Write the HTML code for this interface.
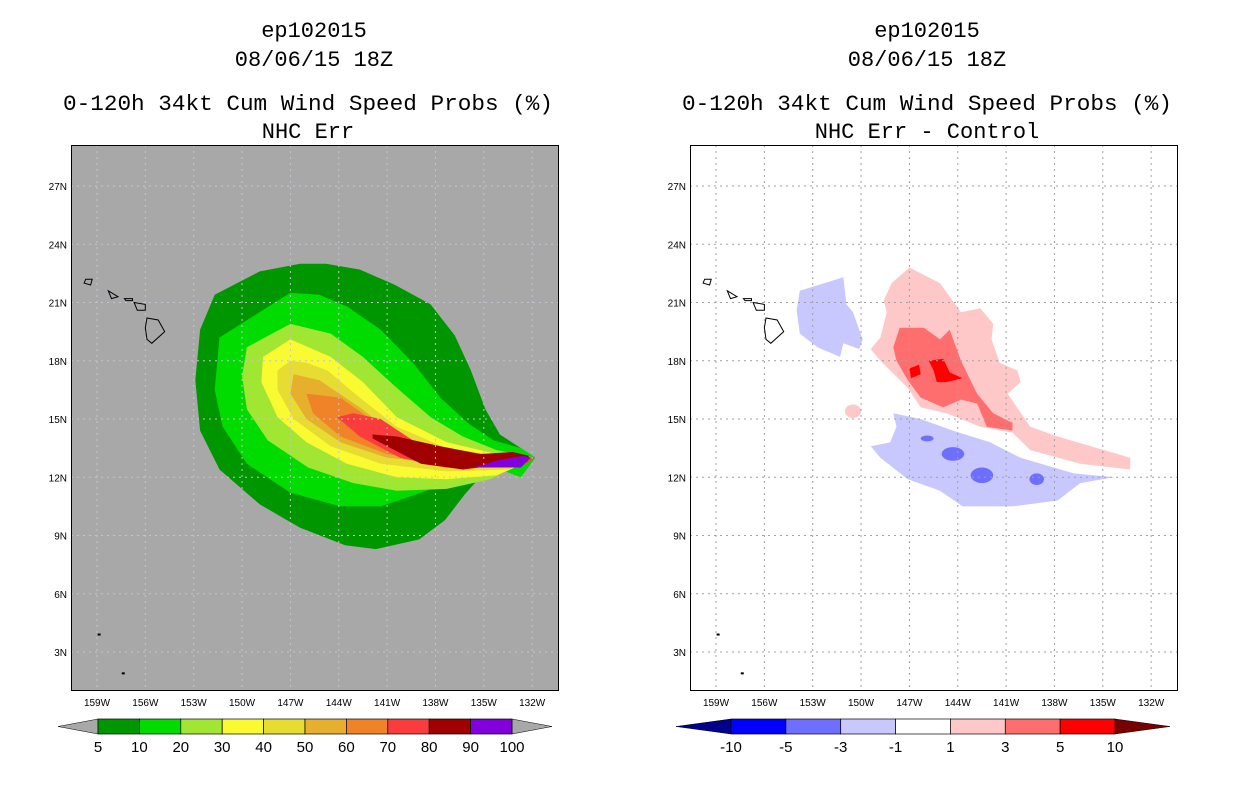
<!DOCTYPE html>
<html><head><meta charset="utf-8"><style>body{margin:0;background:#fff}svg{display:block}</style></head>
<body>
<svg id="chart" width="1236" height="800" viewBox="0 0 1236 800" xmlns="http://www.w3.org/2000/svg" font-family="Liberation Mono, monospace">
<g font-size="22" text-anchor="middle" fill="#000">
<text x="314" y="37">ep102015</text>
<text x="314" y="66">08/06/15 18Z</text>
<text x="308" y="110" textLength="490" lengthAdjust="spacingAndGlyphs">0-120h 34kt Cum Wind Speed Probs (%)</text>
<text x="308" y="138">NHC Err</text>
<text x="927" y="37">ep102015</text>
<text x="927" y="66">08/06/15 18Z</text>
<text x="927" y="110" textLength="490" lengthAdjust="spacingAndGlyphs">0-120h 34kt Cum Wind Speed Probs (%)</text>
<text x="927" y="138">NHC Err - Control</text>
</g>
<g id="left"></g>
<g id="right"></g>
<g id="cbars"></g>
</svg>
<script>
const lonTicks=[-159,-156,-153,-150,-147,-144,-141,-138,-135,-132];
const latTicks=[3,6,9,12,15,18,21,24,27];
const probLevels=["5","10","20","30","40","50","60","70","80","90","100"];
const probColors=["#009600","#00dc00","#a0e632","#fafa32","#e6dc32","#e6af2d","#f08228","#fa3c3c","#a00000","#8200dc"];
const diffLevels=["-10","-5","-3","-1","1","3","5","10"];
const diffColors=["#0000ff","#6e6eff","#c8c8ff","#ffffff","#ffc8c8","#ff6e6e","#ff0000"];
const TIP=[-131.8,13.0];
const prob5=[[-146.4,23.0],[-148.9,22.6],[-151.7,21.4],[-152.6,19.6],[-152.9,17.0],[-152.6,14.4],[-151.4,12.4],[-148.9,10.6],[-146.4,9.4],[-143.6,8.5],[-141.7,8.3],[-139.0,8.8],[-137.4,9.8],[-136.2,11.1],[-134.6,12.6],[-132.9,12.8],TIP,[-132.7,13.5],[-134.0,14.2],[-134.9,15.5],[-135.8,17.5],[-136.8,19.3],[-138.3,20.9],[-140.5,21.9],[-142.7,22.7],[-144.8,23.0]];
const prob10=[[-147.0,21.5],[-151.4,19.2],[-151.7,16.5],[-151.2,14.6],[-149.7,12.7],[-147.0,11.2],[-143.9,10.5],[-141.4,10.5],[-138.9,11.2],[-136.6,11.9],[-134.0,12.4],[-132.7,12.0],TIP,[-132.7,13.5],[-134.4,13.9],[-136.0,14.8],[-137.7,16.1],[-139.4,17.9],[-141.4,19.6],[-143.5,20.8],[-145.2,21.4]];
const prob20=[[-147.0,19.9],[-149.7,18.7],[-150.0,17.2],[-149.7,15.5],[-148.4,13.9],[-145.9,12.5],[-143.1,11.7],[-140.4,11.3],[-137.3,11.4],[-134.6,11.9],TIP,[-134.2,13.4],[-136.3,14.1],[-138.3,15.1],[-140.4,16.6],[-142.5,18.2],[-144.5,19.4]];
const prob30=[[-147.0,19.1],[-148.7,18.2],[-148.8,16.9],[-147.8,15.1],[-146.0,13.8],[-143.5,12.7],[-140.4,12.0],[-137.3,11.9],[-134.2,12.1],TIP,[-134.2,13.2],[-137.3,13.8],[-140.4,15.1],[-142.5,16.9],[-144.5,18.2]];
const prob40=[[-147.0,18.0],[-147.8,17.5],[-147.8,16.5],[-146.8,15.0],[-144.5,13.6],[-141.4,12.7],[-137.3,12.3],[-133.5,12.4],TIP,[-134.0,13.1],[-137.3,13.5],[-140.4,14.6],[-142.7,16.1],[-144.7,17.5],[-146.0,17.9]];
const prob50=[[-146.8,17.3],[-147.0,16.3],[-146.0,15.0],[-143.9,13.8],[-141.0,13.0],[-137.3,12.7],[-133.2,12.7],TIP,[-133.6,13.1],[-137.3,13.3],[-140.4,14.1],[-142.7,15.6],[-145.2,17.0]];
const prob60=[[-146.0,16.3],[-145.6,15.3],[-143.9,14.1],[-141.0,13.2],[-137.3,12.7],[-132.9,12.8],TIP,[-133.2,13.1],[-137.3,13.2],[-140.4,13.9],[-142.2,15.1],[-143.9,16.1]];
const prob70=[[-144.1,15.1],[-142.7,14.1],[-140.2,13.0],[-137.3,12.5],[-132.6,12.6],TIP,[-132.8,13.1],[-137.3,13.3],[-139.4,13.9],[-141.4,15.0],[-143.1,15.3]];
const prob80=[[-141.9,14.0],[-141.0,13.6],[-138.9,12.7],[-136.3,12.4],[-132.3,12.8],[-132.2,13.1],[-133.2,13.3],[-135.2,13.2],[-137.7,13.6],[-140.4,14.1],[-141.9,14.2]];
const prob90=[[-135.8,12.5],[-132.7,12.5],[-132.1,13.0],[-132.5,13.1],[-134.0,12.9],[-135.2,12.6]];
const diffPos1=[[-148.1,22.0],[-147.0,22.8],[-145.1,22.0],[-143.8,20.5],[-142.6,20.7],[-141.8,19.9],[-141.9,19.1],[-141.4,17.9],[-140.3,17.5],[-140.1,16.9],[-140.9,16.3],[-139.5,14.6],[-137.8,14.1],[-133.3,13.0],[-133.3,12.4],[-136.4,12.7],[-139.5,13.4],[-140.6,14.3],[-142.6,14.6],[-144.7,15.3],[-146.3,15.6],[-147.1,16.6],[-148.8,18.0],[-149.4,18.6],[-148.8,19.2],[-148.4,20.5],[-148.6,21.1]];
const diffPos3=[[-147.6,19.7],[-146.1,19.7],[-145.1,19.1],[-144.5,19.6],[-143.8,18.0],[-142.8,16.3],[-141.8,15.3],[-140.6,14.8],[-140.6,14.4],[-142.2,14.6],[-142.8,15.8],[-143.8,16.0],[-144.9,15.6],[-146.3,16.1],[-147.1,17.0],[-147.8,18.0],[-148.0,18.7]];
const diffPos5a=[[-145.8,18.0],[-144.9,18.1],[-144.5,17.4],[-143.7,17.1],[-144.7,16.9],[-145.3,16.9],[-145.5,17.5]];
const diffPos5b=[[-147.0,17.6],[-146.4,17.8],[-146.3,17.3],[-146.9,17.1]];
const diffNeg1a=[[-153.8,21.6],[-151.1,22.3],[-150.9,20.9],[-150.5,20.5],[-149.9,19.1],[-150.1,18.6],[-151.1,18.9],[-151.3,18.2],[-152.7,18.7],[-153.8,19.4],[-154.0,20.6]];
const diffNeg1b=[[-148.0,15.3],[-146.3,15.0],[-144.3,14.4],[-142.0,13.8],[-140.1,13.0],[-136.8,12.2],[-134.3,12.0],[-136.4,11.7],[-137.8,10.8],[-140.6,10.5],[-143.7,10.5],[-145.1,11.3],[-147.1,11.9],[-148.8,13.0],[-149.4,13.6],[-148.2,13.8],[-147.8,14.6]];
const diffNeg3Blobs=[[-144.3,13.2,0.7,0.35],[-142.5,12.1,0.7,0.4],[-139.1,11.9,0.45,0.3],[-145.9,14.0,0.4,0.15]];
const diffPosSmall=[[-150.5,15.4,0.5,0.35]];
const bigIsland=[[-155.9,20.2],[-155.2,20.1],[-154.8,19.5],[-155.6,18.9],[-155.9,19.1],[-156.0,19.7]];
const maui=[[-156.7,21.0],[-156.0,20.9],[-156.0,20.6],[-156.5,20.6]];
const oahu=[[-158.3,21.6],[-157.7,21.3],[-158.1,21.2]];
const kauai=[[-159.7,22.2],[-159.3,22.2],[-159.4,21.9],[-159.8,22.0]];
const molokai=[[-157.3,21.2],[-156.8,21.2],[-156.8,21.1],[-157.2,21.1]];
const NS='http://www.w3.org/2000/svg';
function el(t,a,p){const e=document.createElementNS(NS,t);for(const k in a)e.setAttribute(k,a[k]);p.appendChild(e);return e;}
function makeAxes(x0){
  return {X:lon=>x0+26+(lon+159)/3*48.35, Y:lat=>186+(27-lat)/3*58.25, x0:x0};
}
function poly(ax,pts,fill,g,name){
  const d='M'+pts.map(p=>ax.X(p[0]).toFixed(1)+','+ax.Y(p[1]).toFixed(1)).join('L')+'Z';
  const e=el('path',{d:d,fill:fill,stroke:'none'},g);
  
  
  return e;
}
function blob(ax,b,fill,g,name){
  const e=el('ellipse',{cx:ax.X(b[0]),cy:ax.Y(b[1]),rx:b[2]/3*48.35,ry:b[3]/3*58.25,fill:fill},g);
  
  
}
function drawMap(g,ax,bg,grid){
  const fr=el('rect',{x:ax.x0,y:145,width:487,height:545,fill:bg},g);
  
  
  return fr;
}
function drawGrid(g,ax,col){
  lonTicks.forEach(l=>{const e=el('line',{x1:ax.X(l),x2:ax.X(l),y1:145,y2:690,stroke:col,'stroke-dasharray':'2,4'},g);
    
    });
  latTicks.forEach(l=>{const e=el('line',{x1:ax.x0,x2:ax.x0+487,y1:ax.Y(l),y2:ax.Y(l),stroke:col,'stroke-dasharray':'2,4'},g);
    
    });
}
function drawIslands(g,ax){
  [bigIsland,maui,oahu,kauai,molokai].forEach(p=>{const e=poly(ax,p,'none',g,'island');e.setAttribute('stroke','#000');e.setAttribute('stroke-width','1');});
  [[-158.9,3.9],[-157.4,1.9]].forEach(p=>{const e=el('rect',{x:ax.X(p[0])-1,y:ax.Y(p[1])-1,width:3,height:2,fill:'#000'},g);
    
    });
}
function drawFrameTicks(g,ax){
  const f=el('rect',{x:ax.x0+0.5,y:145.5,width:487,height:545,fill:'none',stroke:'#000'},g);
  
  
  lonTicks.forEach(l=>{const t=el('text',{x:ax.X(l),y:706,'font-size':10,'text-anchor':'middle','font-family':'Liberation Sans, sans-serif'},g);
    t.textContent=(-l)+'W';
    
    });
  latTicks.forEach(l=>{const t=el('text',{x:ax.x0-4,y:ax.Y(l)+4,'font-size':10,'text-anchor':'end','font-family':'Liberation Sans, sans-serif'},g);
    t.textContent=l+'N';
    
    });
}
// Left
const L=makeAxes(71), gl=document.getElementById('left');
drawMap(gl,L,'#a8a8a8');
[prob5,prob10,prob20,prob30,prob40,prob50,prob60,prob70,prob80,prob90].forEach((p,i)=>poly(L,p,probColors[i],gl,'prob-contour-'+probLevels[i]));
drawGrid(gl,L,'#c4c4d0');
drawIslands(gl,L);
drawFrameTicks(gl,L);
// Right
const R=makeAxes(690), gr=document.getElementById('right');
drawMap(gr,R,'#ffffff');
poly(R,diffNeg1a,diffColors[2],gr,'diff-neg-1-north');
poly(R,diffNeg1b,diffColors[2],gr,'diff-neg-1-south');
diffNeg3Blobs.forEach(b=>blob(R,b,diffColors[1],gr,'diff-neg-3'));
poly(R,diffPos1,diffColors[4],gr,'diff-pos-1');
diffPosSmall.forEach(b=>blob(R,b,diffColors[4],gr,'diff-pos-1-small'));
poly(R,diffPos3,diffColors[5],gr,'diff-pos-3');
poly(R,diffPos5a,diffColors[6],gr,'diff-pos-5');
poly(R,diffPos5b,diffColors[6],gr,'diff-pos-5-small');
drawGrid(gr,R,'#a0a0a0');
drawIslands(gr,R);
drawFrameTicks(gr,R);
// Colorbars
function colorbar(g,x0,x1,capW,colors,labels,capL,capR,name){
  const y0=719,h=15,n=colors.length,w=(x1-x0-2*capW)/n,s=x0+capW;
  const cl=el('path',{d:`M${x0},${y0+h/2}L${s},${y0}L${s},${y0+h}Z`,fill:capL,stroke:'#000','stroke-width':0.5},g);
  
  
  const cr=el('path',{d:`M${x1},${y0+h/2}L${x1-capW},${y0}L${x1-capW},${y0+h}Z`,fill:capR,stroke:'#000','stroke-width':0.5},g);
  
  
  colors.forEach((c,i)=>{const r=el('rect',{x:s+i*w,y:y0,width:w,height:h,fill:c,stroke:'#000','stroke-width':0.7},g);
    
    });
  labels.forEach((t,i)=>{const e=el('text',{x:s+i*w,y:752,'font-size':15,'text-anchor':'middle','font-family':'Liberation Sans, sans-serif'},g);
    e.textContent=t;
    
    });
}
const gc=document.getElementById('cbars');
colorbar(gc,58,552,40,probColors,probLevels,'#a8a8a8','#a8a8a8','prob-colorbar');
colorbar(gc,676,1170,55,diffColors,diffLevels,'#00008c','#780000','diff-colorbar');
</script>
</body></html>
